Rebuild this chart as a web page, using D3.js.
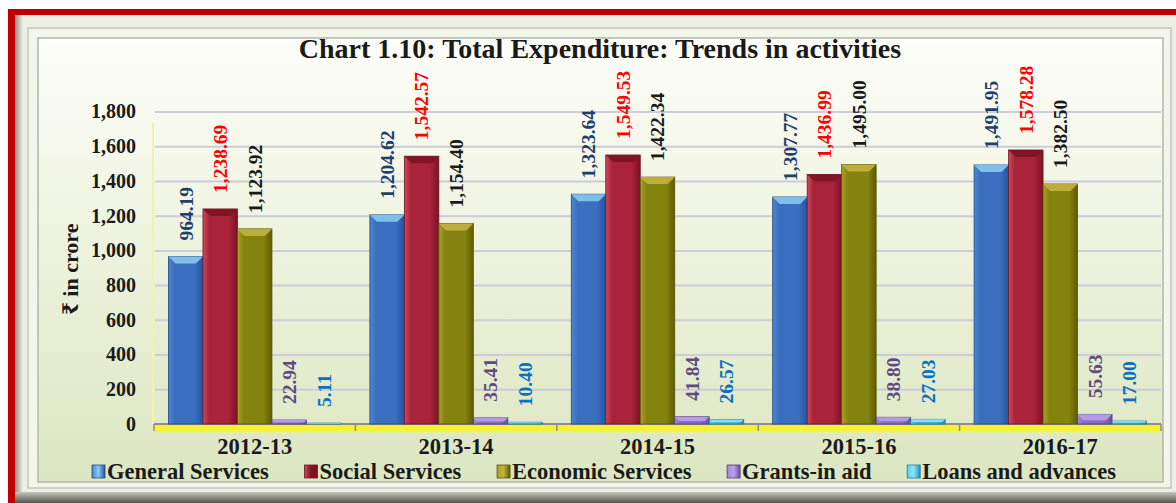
<!DOCTYPE html>
<html>
<head>
<meta charset="utf-8">
<script src="https://cdn.jsdelivr.net/npm/d3@7"></script>
<style>
	body { margin: 0; background: #fff; }
	svg { display: block; }
	text { font-family: "Liberation Serif", "Times New Roman", "Noto Serif", serif; font-weight: bold; }
</style>
</head>
<body>
<svg id="chart" width="1176" height="503"></svg>
<script>
// values (₹ in crore)
const years = ['2012-13', '2013-14', '2014-15', '2015-16', '2016-17'];
const series = ['General Services', 'Social Services', 'Economic Services', 'Grants-in aid', 'Loans and advances'];
const general_services = [964.19, 1204.62, 1323.64, 1307.77, 1491.95];
const social_services = [1238.69, 1542.57, 1549.53, 1436.99, 1578.28];
const economic_services = [1123.92, 1154.40, 1422.34, 1495.00, 1382.50];
const grants_in_aid = [22.94, 35.41, 41.84, 38.80, 55.63];
const loans_and_advances = [5.11, 10.40, 26.57, 27.03, 17.00];
const y_ticks = [0, 200, 400, 600, 800, 1000, 1200, 1400, 1600, 1800];
const title = 'Chart 1.10: Total Expenditure: Trends in activities';
const y_title = '₹ in crore';

const values = [general_services, social_services, economic_services, grants_in_aid, loans_and_advances];

// bar shades: [light edge, middle, dark edge, top bevel, outline], label colour
const shades = [
	{ key: 'gen', fill: ['#4f86d2', '#3a6fbf', '#2654a0', '#86c8f0', '#23467e'], label: '#1f3f6e' },
	{ key: 'soc', fill: ['#cf4a5a', '#a9233a', '#7a1222', '#7c1424', '#6e1420'], label: '#ff0000' },
	{ key: 'eco', fill: ['#a8a22a', '#85830f', '#5e5c00', '#c4b040', '#55540a'], label: '#1a1a1a' },
	{ key: 'gra', fill: ['#a38bd6', '#8a6cc2', '#6c52a0', '#b9a2ea', '#4f3c7c'], label: '#5f4a80' },
	{ key: 'loa', fill: ['#5fd0ec', '#3cb4d8', '#2290b4', '#8ae6fa', '#1f7a98'], label: '#0a70c0' }
];

const svg = d3.select('#chart');
const defs = svg.append('defs');

const x0 = d3.scaleBand().domain(years).range([154, 1161]);
const x1 = d3.scaleBand().domain(d3.range(series.length)).range([0, x0.bandwidth()]).paddingOuter(0.42);
const y = d3.scaleLinear().domain([0, 1800]).range([424, 111.5]);

// gradients
const vgrad = (id, stops) => {
	const g = defs.append('linearGradient').attr('id', id).attr('x1', 0).attr('y1', 0).attr('x2', 0).attr('y2', 1);
	stops.forEach(s => g.append('stop').attr('offset', s[0]).attr('stop-color', s[1]));
};
const hgrad = (id, stops) => {
	const g = defs.append('linearGradient').attr('id', id).attr('x1', 0).attr('y1', 0).attr('x2', 1).attr('y2', 0);
	stops.forEach(s => g.append('stop').attr('offset', s[0]).attr('stop-color', s[1]));
};
vgrad('panel', [[0, '#fefefa'], [0.25, '#f5f8ea'], [1, '#dce6c1']]);
vgrad('frame-bottom', [[0, '#c4c6bc'], [1, '#55554f']]);
hgrad('frame-left', [[0, '#8e8e8a'], [1, '#eef0e6']]);
vgrad('floor', [[0, '#f6f41e'], [0.7, '#f4f238'], [1, '#e8ecb0']]);
shades.forEach(s => {
	hgrad('bar-' + s.key, [[0, s.fill[0]], [0.18, s.fill[1]], [0.75, s.fill[1]], [1, s.fill[2]]]);
	hgrad('lg-' + s.key, [[0, s.fill[0]], [0.5, s.fill[3]], [1, s.fill[2]]]);
});

// frame
svg.append('rect').attr('x', 8).attr('y', 9).attr('width', 1200).attr('height', 520).attr('fill', '#c00000');
svg.append('rect').attr('x', 15).attr('y', 15).attr('width', 1180).attr('height', 500).attr('fill', '#eef0e6');
svg.append('rect').attr('x', 15).attr('y', 15).attr('width', 8).attr('height', 500).attr('fill', 'url(#frame-left)');
svg.append('rect').attr('x', 15).attr('y', 492).attr('width', 1180).attr('height', 11).attr('fill', 'url(#frame-bottom)');
svg.append('rect').attr('x', 28).attr('y', 28).attr('width', 1143).attr('height', 460)
	.attr('fill', '#f3f6ea').attr('stroke', '#c4c6bc').attr('stroke-width', 1.5);
svg.append('rect').attr('x', 38).attr('y', 38).attr('width', 1125).attr('height', 444)
	.attr('fill', 'url(#panel)').attr('stroke', '#b4b6aa').attr('stroke-width', 1.5);

// title
svg.append('text').attr('x', 600).attr('y', 58).attr('text-anchor', 'middle')
	.attr('font-size', 28).attr('fill', '#1a1a1a').text(title);

// back wall edge
svg.append('line').attr('x1', 153).attr('x2', 153).attr('y1', 123).attr('y2', 424)
	.attr('stroke', '#f2f2a8').attr('stroke-width', 2);

// gridlines
svg.append('g')
	.attr('transform', 'translate(155,0)')
	.call(d3.axisLeft(y).tickValues(y_ticks.filter(d => d > 0)).tickSize(-(1161 - 155)).tickFormat(''))
	.call(g => g.select('.domain').remove())
	.call(g => g.selectAll('line').attr('stroke', '#cdccd8').attr('stroke-width', 2));

// y labels
svg.append('g')
	.attr('transform', 'translate(141,0)')
	.call(d3.axisLeft(y).tickValues(y_ticks).tickFormat(d3.format(',')).tickSize(0).tickPadding(5))
	.call(g => g.select('.domain').remove())
	.call(g => g.selectAll('text').attr('font-size', 20).attr('fill', '#1a1a1a')
		.attr('font-family', '"Liberation Serif", "Times New Roman", serif').attr('font-weight', 'bold'));

svg.append('text')
	.attr('transform', 'translate(70,269) rotate(-90)')
	.attr('text-anchor', 'middle').attr('dy', '0.35em')
	.attr('font-size', 22).attr('fill', '#1a1a1a').text(y_title);

// floor and category axis
svg.append('rect').attr('x', 154).attr('y', 424).attr('width', 1161 - 154).attr('height', 9).attr('fill', 'url(#floor)');
svg.append('line').attr('x1', 154).attr('x2', 1161).attr('y1', 424).attr('y2', 424)
	.attr('stroke', '#8c8c8c').attr('stroke-width', 2);
svg.append('g').selectAll('line')
	.data(years.map(d => x0(d)).concat([x0.range()[1]]))
	.join('line')
	.attr('x1', d => d).attr('x2', d => d).attr('y1', 424).attr('y2', 431)
	.attr('stroke', '#8c8c8c').attr('stroke-width', 1.5);

// category labels, baseline ~454 so they clear the legend row
svg.append('g')
	.attr('transform', 'translate(0,454)')
	.call(d3.axisBottom(x0).tickSize(0).tickPadding(0))
	.call(g => g.select('.domain').remove())
	.call(g => g.selectAll('text').attr('font-size', 22.5).attr('fill', '#1a1a1a').attr('dy', 0)
		.attr('font-family', '"Liberation Serif", "Times New Roman", serif').attr('font-weight', 'bold'));

// bars
const fmt = d3.format(',.2f');
const groups = svg.append('g').selectAll('g')
	.data(years)
	.join('g')
	.attr('transform', d => `translate(${x0(d)},0)`);

groups.each(function (year, yi) {
	const g = d3.select(this);
	series.forEach((name, si) => {
		const v = values[si][yi];
		const s = shades[si];
		const bx = x1(si), bw = x1.bandwidth();
		const top = y(v), h = y(0) - top;
		g.append('rect')
			.attr('x', bx).attr('y', top).attr('width', bw).attr('height', h)
			.attr('fill', `url(#bar-${s.key})`).attr('stroke', s.fill[4]).attr('stroke-width', 0.8);
		const b = Math.min(7, h * 0.6);
		g.append('polygon')
			.attr('points', [[bx, top], [bx + bw, top], [bx + bw - b, top + b], [bx + b, top + b]].join(' '))
			.attr('fill', s.fill[3]).attr('opacity', 0.9);
		g.append('text')
			.attr('transform', `translate(${bx + bw / 2},${top - 16}) rotate(-90)`)
			.attr('dy', '0.35em')
			.attr('font-size', 19.5).attr('fill', s.label)
			.text(fmt(v));
	});
});

// legend, spread so it runs from x=92 to x=1116 like the original
const legend = svg.append('g');
const items = series.map((name, si) => {
	const s = shades[si];
	const item = legend.append('g');
	item.append('rect').attr('x', 0).attr('y', 465).attr('width', 13).attr('height', 13)
		.attr('fill', `url(#lg-${s.key})`).attr('stroke', s.fill[4]).attr('stroke-width', 0.8);
	const t = item.append('text').attr('x', 15).attr('y', 479)
		.attr('font-size', 22.5).attr('fill', '#1a1a1a').text(name);
	return { item, w: 15 + t.node().getComputedTextLength() };
});
const gap = (1116 - 92 - d3.sum(items, d => d.w)) / (items.length - 1);
let lx = 92;
items.forEach(d => {
	d.item.attr('transform', `translate(${lx},0)`);
	lx += d.w + gap;
});
</script>
</body>
</html>
